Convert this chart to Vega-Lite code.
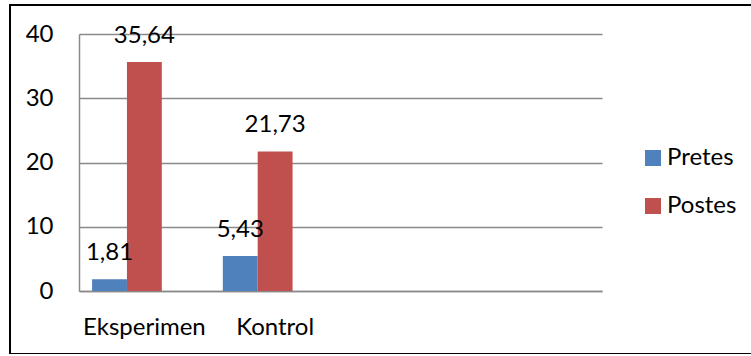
{
  "$schema": "https://vega.github.io/schema/vega-lite/v6.json",
  "width": 745,
  "height": 349,
  "autosize": {"type": "none"},
  "padding": {"left": 10, "top": 5, "right": 0, "bottom": 0},
  "config": {
    "view": {"stroke": "black", "strokeWidth": 2},
    "font": "Lato",
    "locale": {"number": {"decimal": ",", "thousands": ".", "grouping": [3], "currency": ["", ""]}}
  },
  "data": {
    "values": [
      {"kelompok": "Eksperimen", "tes": "Pretes", "nilai": 1.81},
      {"kelompok": "Eksperimen", "tes": "Postes", "nilai": 35.64},
      {"kelompok": "Kontrol", "tes": "Pretes", "nilai": 5.43},
      {"kelompok": "Kontrol", "tes": "Postes", "nilai": 21.73}
    ]
  },
  "encoding": {
    "x": {
      "field": "kelompok",
      "type": "nominal",
      "scale": {"domain": ["Eksperimen", "Kontrol", "c3", "c4"], "range": [69, 592], "paddingInner": 0.2, "paddingOuter": 0.1},
      "axis": {
        "title": null,
        "offset": -63,
        "labelAngle": 0,
        "ticks": false,
        "grid": false,
        "domainColor": "#8a8a8a",
        "domainWidth": 1.5,
        "labelFontSize": 24,
        "labelColor": "black",
        "labelPadding": 24,
        "labelExpr": "datum.value == 'c3' || datum.value == 'c4' ? '' : datum.label"
      }
    },
    "xOffset": {
      "field": "tes",
      "type": "nominal",
      "scale": {"domain": ["Pretes", "Postes", "x"], "paddingInner": 0, "paddingOuter": 0}
    },
    "y": {
      "field": "nilai",
      "type": "quantitative",
      "scale": {"domain": [0, 40], "range": [286, 29], "nice": false},
      "axis": {
        "title": null,
        "offset": -69,
        "ticks": false,
        "values": [0, 10, 20, 30, 40],
        "domainColor": "#8a8a8a",
        "domainWidth": 1.5,
        "gridColor": "#8a8a8a",
        "gridWidth": 1.5,
        "labelFontSize": 24,
        "labelColor": "black",
        "labelPadding": 26
      }
    }
  },
  "layer": [
    {
      "mark": {"type": "bar"},
      "encoding": {
        "color": {
          "field": "tes",
          "type": "nominal",
          "scale": {"domain": ["Pretes", "Postes"], "range": ["#4F81BD", "#C0504D"]},
          "legend": {
            "orient": "none",
            "legendX": 631,
            "legendY": 141,
            "title": null,
            "symbolType": "square",
            "symbolSize": 256,
            "symbolStrokeWidth": 0,
            "symbolOpacity": 1,
            "labelFontSize": 24,
            "labelColor": "black",
            "labelOffset": 2,
            "rowPadding": 24
          }
        }
      }
    },
    {
      "mark": {"type": "text", "dy": -19, "baseline": "alphabetic", "fontSize": 24, "color": "black"},
      "encoding": {
        "text": {"field": "nilai", "type": "quantitative", "format": ".2f"}
      }
    }
  ]
}
